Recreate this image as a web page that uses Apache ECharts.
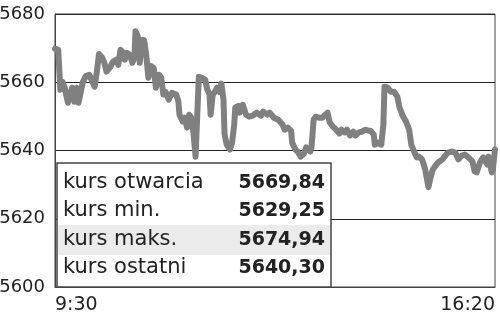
<!DOCTYPE html>
<html><head><meta charset="utf-8">
<script src="https://cdn.jsdelivr.net/npm/echarts@6/dist/echarts.min.js"></script>
<style>html,body{margin:0;padding:0;background:#fff}#c{width:500px;height:317px}</style>
</head><body><div id="c"></div>
<script>
// minutes since 9:30
const times = [0,3,5,7,9,12,14,16,18,20,22,24,26,29,32,34,37,39,41,44,46,48,51,54,57,59,61,63,65,67,70,72,74,75,77,79,81,83,85,87,89,92,94,97,99,101,103,106,109,113,115,116,119,121,123,125,127,129,131,134,137,140,142,144,145,147,149,151,153,155,157,158,160,163,165,167,168,171,172,175,178,181,184,188,192,194,198,200,204,208,212,214,217,220,221,224,226,229,232,234,236,238,239,241,243,246,249,252,254,256,259,262,265,267,270,272,275,278,280,283,286,289,292,294,297,298,301,304,306,307,310,313,316,319,321,324,327,330,332,335,337,339,342,343,345,347,348,350,352,354,357,361,363,366,370,373,376,379,382,385,389,391,393,396,399,401,403,404,407,408,410];
const values = [5669.84,5669.5,5657.8,5660.1,5658.4,5654.0,5656.4,5658.4,5654.3,5658.4,5654.0,5657.2,5660.1,5661.9,5662.2,5660.7,5658.7,5663.1,5668.3,5667.2,5665.7,5663.1,5664.2,5666.0,5666.6,5665.1,5669.5,5668.9,5666.6,5668.6,5668.0,5665.7,5667.2,5674.94,5673.6,5665.7,5672.4,5672.4,5668.0,5661.3,5664.8,5664.2,5658.4,5662.2,5661.3,5656.4,5657.2,5654.9,5656.9,5656.4,5654.3,5650.5,5648.5,5649.6,5646.7,5650.5,5649.6,5645.3,5638.2,5661.6,5661.3,5660.7,5657.8,5656.4,5650.5,5656.4,5657.2,5658.4,5657.2,5659.6,5654.9,5644.7,5641.7,5640.3,5642.3,5647.6,5652.6,5653.1,5651.1,5653.4,5650.5,5649.9,5650.2,5651.1,5650.2,5651.4,5650.5,5651.1,5649.6,5649.0,5647.6,5646.1,5646.7,5645.8,5642.3,5640.3,5639.7,5638.2,5639.1,5640.9,5640.3,5639.7,5640.9,5649.0,5649.9,5649.6,5649.6,5650.5,5651.1,5648.2,5647.0,5646.1,5645.0,5646.1,5645.3,5646.1,5644.4,5645.5,5644.4,5645.3,5645.5,5646.1,5645.8,5645.8,5644.7,5641.7,5642.3,5641.7,5647.6,5658.7,5658.4,5657.2,5657.2,5655.8,5652.6,5650.2,5648.5,5646.1,5641.7,5639.4,5638.0,5638.2,5637.4,5636.5,5634.4,5630.9,5629.25,5632.1,5634.4,5635.3,5636.5,5637.4,5638.2,5639.4,5639.7,5639.4,5637.4,5638.5,5638.8,5638.0,5636.8,5633.9,5633.6,5636.5,5638.0,5636.8,5635.9,5638.2,5633.6,5634.4,5640.30];
const yTicks = [5600,5620,5640,5660,5680];
const xLabels = ['9:30','16:20'];
const statLabels = ['kurs otwarcia','kurs min.','kurs maks.','kurs ostatni'];
const statValues = ['5669,84','5629,25','5674,94','5640,30'];

const chart = echarts.init(document.getElementById('c'), null, {renderer:'canvas'});
const tMax = times[times.length-1];
const rowY = [183,211,240,268];
const graphics = [
  {type:'rect', shape:{x:57,y:163,width:274,height:124}, style:{fill:'#fff',stroke:'#444',lineWidth:1.5}, z:10},
  {type:'rect', shape:{x:58,y:225,width:272,height:30}, style:{fill:'#ebebeb'}, z:11}
];
statLabels.forEach((l,i)=>{
  graphics.push({type:'text', z:12, style:{text:l, x:63, y:rowY[i], font:'21px "DejaVu Sans"', fill:'#222', textAlign:'left', textVerticalAlign:'middle'}});
  graphics.push({type:'text', z:12, style:{text:statValues[i], x:325, y:rowY[i], font:'bold 19px "DejaVu Sans"', fill:'#222', textAlign:'right', textVerticalAlign:'middle'}});
});
chart.setOption({
  animation:false,
  backgroundColor:'#fff',
  grid:{left:55,right:5,top:14,bottom:30,outerBoundsMode:'none',containLabel:false,show:true,borderColor:'#444',borderWidth:1,backgroundColor:'transparent'},
  xAxis:{type:'value',min:0,max:tMax,interval:tMax,
    axisLine:{show:true,lineStyle:{color:'#444',width:1}},
    axisTick:{show:false},splitLine:{show:false},
    axisLabel:{color:'#222',fontSize:19,fontFamily:'DejaVu Sans',margin:9,alignMinLabel:'left',alignMaxLabel:'right',
      formatter:v=> v===0?xLabels[0]:(v===tMax?xLabels[1]:'')}},
  yAxis:{type:'value',min:yTicks[0],max:yTicks[yTicks.length-1],interval:yTicks[1]-yTicks[0],
    axisLine:{show:true,lineStyle:{color:'#444',width:1}},
    axisTick:{show:false},
    splitLine:{show:true,lineStyle:{color:'#222',width:1}},
    axisLabel:{color:'#222',fontSize:18,fontFamily:'DejaVu Sans',margin:10,formatter:v=>String(v)}},
  series:[{type:'line',data:times.map((t,i)=>[t,values[i]]),showSymbol:false,
    lineStyle:{color:'#808080',width:6,join:'round',cap:'round'},z:3}],
  graphic:graphics
});
</script></body></html>
